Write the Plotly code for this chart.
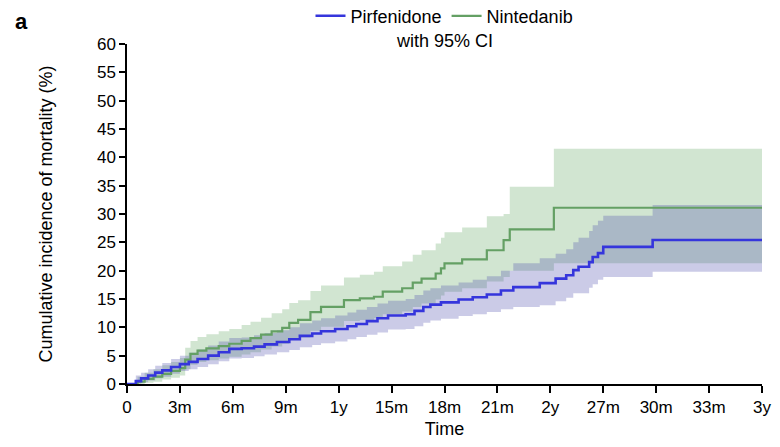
import plotly.graph_objects as go

# ---- data (months, cumulative incidence %) ----
pir_t = [0, 0.5, 0.8, 1.2, 1.6, 2.0, 2.5, 3.0, 3.5, 4.0, 4.6, 5.2, 5.8, 6.5, 7.2, 7.8, 8.5, 9.2, 9.8, 10.5,
         11.0, 11.8, 12.5, 13.0, 13.6, 14.2, 14.8, 15.8, 16.3, 16.8, 17.2, 17.8, 18.8, 19.6, 20.4, 21.2,
         21.9, 23.4, 24.3, 24.9, 25.3, 25.6, 26.2, 26.4, 26.7, 27.0, 29.8, 36]
pir_est = [0, 0.5, 1.0, 1.5, 2.0, 2.4, 3.0, 3.5, 3.9, 4.4, 5.0, 5.6, 6.2, 6.3, 6.6, 7.0, 7.4, 7.9, 8.5, 8.9,
           9.3, 9.7, 10.2, 10.6, 11.1, 11.6, 12.1, 12.3, 12.9, 13.6, 14.0, 14.4, 14.9, 15.3, 15.8, 16.5,
           17.1, 17.8, 18.6, 19.2, 20.1, 20.7, 21.5, 22.4, 23.1, 24.2, 25.4, 25.4]
pir_lo = [0, 0.1, 0.3, 0.6, 1.0, 1.3, 1.8, 2.3, 2.6, 3.0, 3.5, 4.0, 4.5, 4.6, 4.9, 5.2, 5.6, 6.0, 6.5, 6.9,
          7.2, 7.5, 7.9, 8.3, 8.7, 9.1, 9.6, 9.7, 10.2, 10.8, 11.2, 11.5, 12.0, 12.3, 12.7, 13.2,
          13.6, 13.9, 14.6, 15.2, 16.0, 16.0, 17.0, 17.6, 18.4, 18.9, 19.8, 19.8]
pir_hi = [0, 1.5, 2.0, 2.6, 3.2, 3.7, 4.4, 5.0, 5.5, 6.1, 6.8, 7.5, 8.1, 8.2, 8.6, 9.0, 9.5, 10.0, 10.7, 11.2,
          11.6, 12.1, 12.6, 13.1, 13.6, 14.2, 14.7, 15.0, 15.7, 16.5, 16.9, 17.4, 17.9, 18.4, 19.0, 20.0,
          21.3, 22.2, 23.0, 23.8, 25.0, 25.8, 27.0, 28.0, 28.8, 29.7, 31.6, 31.6]

nin_t = [0, 0.6, 1.0, 1.5, 2.0, 2.5, 3.0, 3.3, 3.6, 4.0, 4.5, 5.2, 5.8, 6.5, 7.0, 7.6, 8.2, 8.8, 9.2, 9.7,
         10.4, 11.0, 12.3, 13.2, 14.0, 14.5, 15.6, 16.2, 16.7, 17.5, 17.8, 18.0, 19.0, 20.4, 21.35, 21.7,
         24.2, 36]
nin_est = [0, 0.4, 0.9, 1.3, 1.8, 2.3, 2.8, 4.3, 5.3, 5.9, 6.3, 6.7, 7.1, 7.6, 8.1, 8.7, 9.3, 9.9, 10.8, 11.3,
           12.7, 13.6, 14.8, 15.1, 15.4, 16.3, 16.9, 17.9, 18.6, 19.5, 20.4, 21.3, 22.0, 23.6, 25.4, 27.3,
           31.1, 31.1]
nin_lo = [0, 0.0, 0.2, 0.4, 0.8, 1.1, 1.5, 2.6, 3.4, 3.9, 4.2, 4.5, 4.8, 5.2, 5.6, 6.1, 6.6, 7.1, 7.8, 8.2,
          9.4, 10.1, 11.1, 11.3, 11.6, 12.3, 12.8, 13.6, 14.2, 14.9, 15.6, 16.3, 16.9, 18.1, 18.9, 20.0,
          21.3, 21.3]
nin_hi = [0, 1.3, 2.0, 2.6, 3.3, 3.9, 4.6, 6.4, 7.6, 8.3, 8.8, 9.3, 9.7, 10.4, 11.0, 11.7, 12.5, 13.2, 14.3, 14.8,
          16.4, 17.4, 18.8, 19.3, 19.8, 20.8, 21.6, 22.8, 23.6, 24.8, 25.8, 26.8, 27.6, 29.6, 30.0, 34.8,
          41.5, 41.5]

x_tickvals = [0, 3, 6, 9, 12, 15, 18, 21, 24, 27, 30, 33, 36]
x_ticktext = ["0", "3m", "6m", "9m", "1y", "15m", "18m", "21m", "2y", "27m", "30m", "33m", "3y"]
y_tickvals = [0, 5, 10, 15, 20, 25, 30, 35, 40, 45, 50, 55, 60]

BLUE = "#3535dc"
GREEN = "#64a064"
BLUE_FILL = "rgba(70,70,170,0.28)"
GREEN_FILL = "rgba(90,160,90,0.28)"
FONT = "Liberation Sans, Arial, sans-serif"

fig = go.Figure()

# CI bands
for t, lo, hi, fc in [(nin_t, nin_lo, nin_hi, GREEN_FILL), (pir_t, pir_lo, pir_hi, BLUE_FILL)]:
    fig.add_trace(go.Scatter(x=t, y=lo, mode="lines", line=dict(width=0, shape="hv"),
                             showlegend=False, hoverinfo="skip"))
    fig.add_trace(go.Scatter(x=t, y=hi, mode="lines", line=dict(width=0, shape="hv"),
                             fill="tonexty", fillcolor=fc, showlegend=False, hoverinfo="skip"))

# estimate lines
fig.add_trace(go.Scatter(x=nin_t, y=nin_est, mode="lines", name="Nintedanib",
                         line=dict(color=GREEN, width=2.2, shape="hv")))
fig.add_trace(go.Scatter(x=pir_t, y=pir_est, mode="lines", name="Pirfenidone",
                         line=dict(color=BLUE, width=2.6, shape="hv")))

# page body has an 8px margin; figure sized to fit inside the 780x447 window
fig.update_layout(
    width=764, height=431,
    margin=dict(l=119, r=10, t=36, b=55, autoexpand=False),
    paper_bgcolor="white", plot_bgcolor="white",
    font=dict(family=FONT, size=17, color="black"),
    legend=dict(orientation="h", x=0.5, xanchor="center", y=1.082, yanchor="middle",
                traceorder="reversed", font=dict(size=18), itemwidth=30,
                bgcolor="rgba(0,0,0,0)"),
    xaxis=dict(range=[0, 36], tickvals=x_tickvals, ticktext=x_ticktext, automargin=False,
               ticklabeloverflow="allow",
               showline=True, linecolor="black", linewidth=1.5, ticks="outside",
               ticklen=7, tickwidth=1.5, tickcolor="black", showgrid=False, zeroline=False,
               title=dict(text="Time", font=dict(size=18), standoff=20),
               tickfont=dict(size=17)),
    yaxis=dict(range=[0, 60], tickvals=y_tickvals, automargin=False,
               showline=True, linecolor="black", linewidth=1.5, ticks="outside",
               ticklen=6, tickwidth=1.5, tickcolor="black", showgrid=False, zeroline=False,
               title=dict(text="Cumulative incidence of mortality (%)", font=dict(size=18), standoff=40),
               tickfont=dict(size=17)),
    annotations=[
        dict(text="with 95% CI", xref="paper", yref="paper", x=0.5, y=1.008,
             xanchor="center", yanchor="middle", showarrow=False, font=dict(size=18)),
        dict(text="<b>a</b>", xref="paper", yref="paper", x=-0.18, y=1.065,
             xanchor="left", yanchor="middle", showarrow=False, font=dict(size=22)),
    ],
)

fig.write_html("out.html")
